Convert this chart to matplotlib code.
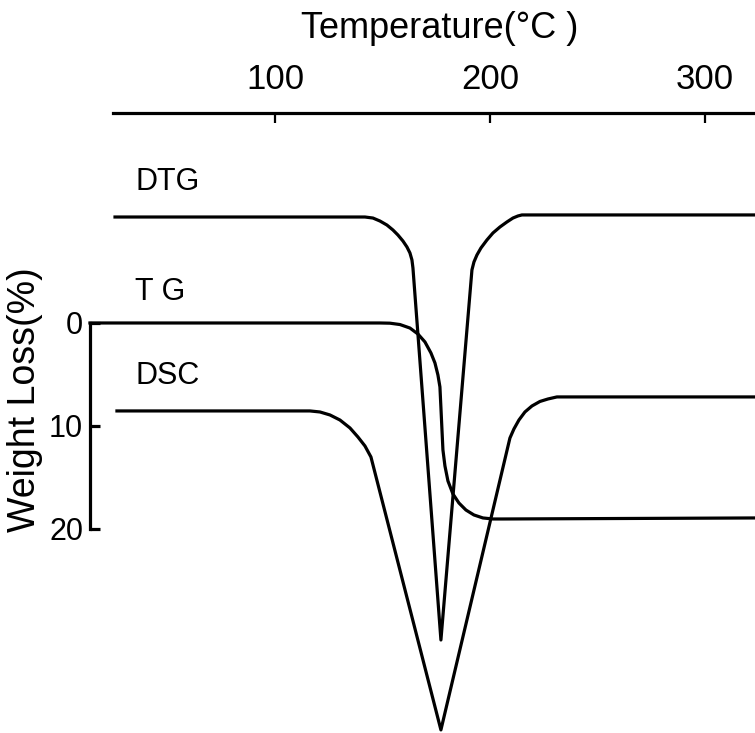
import numpy as np
import matplotlib
matplotlib.use('Agg')
import matplotlib.pyplot as plt

plt.rcParams['font.family'] = ['Liberation Sans', 'DejaVu Sans']

# Temperature (deg C) and vertical position (weight-loss % scale, offsets
# for DTG and DSC are arbitrary as in the original figure)
dtg_temp = [25.6, 141.86, 145.58, 148.84, 152.09, 154.88, 157.21, 159.53,
            161.40, 162.79, 163.72, 164.19, 177.2,
            191.63, 192.56, 193.95, 195.81, 198.60, 201.40, 204.65,
            207.91, 210.70, 213.02, 214.88, 323.3]
dtg_val = [-10.29, -10.29, -10.19, -9.90, -9.51, -9.03, -8.54, -7.96,
           -7.38, -6.80, -6.12, -5.34, 30.78,
           -5.15, -5.92, -6.60, -7.28, -8.06, -8.74, -9.32,
           -9.81, -10.19, -10.39, -10.49, -10.49]

tg_temp = [13.95, 148.84, 153.49, 158.14, 162.79, 166.51, 169.77, 172.56,
           174.42, 175.81, 176.74, 177.21, 177.67, 178.14, 179.07, 180.47,
           182.79, 185.58, 188.84, 192.56, 196.74, 201.40, 206.05, 323.3]
tg_val = [0.0, 0.0, 0.02, 0.15, 0.49, 1.07, 1.84, 2.91,
          3.88, 5.05, 6.21, 8.25, 10.29, 12.33, 13.88, 15.34,
          16.60, 17.48, 18.16, 18.64, 18.93, 19.03, 19.03, 18.93]

dsc_temp = [26.5, 116.28, 120.93, 125.58, 130.23, 134.88, 138.60, 141.86,
            144.65, 177.2,
            209.30, 211.16, 213.49, 216.28, 219.53, 223.26, 226.98, 231.16,
            323.3]
dsc_val = [8.54, 8.54, 8.64, 8.93, 9.42, 10.19, 11.07, 11.94,
           13.01, 39.51,
           11.17, 10.29, 9.42, 8.64, 8.06, 7.62, 7.38, 7.18,
           7.18]

temp_ticks = [100, 200, 300]
loss_ticks = [0, 10, 20]
curve_names = ['DTG', 'T G', 'DSC']
label_y = [-13.69, -3.01, 5.15]


def main():
    fig = plt.figure(figsize=(7.55, 7.33), dpi=100)
    ax = fig.add_axes([0, 0, 1, 1])
    ax.set_xlim(-27.9, 323.3)
    ax.set_ylim(39.81, -31.36)

    lw = 2.3
    for t, v in [(dtg_temp, dtg_val), (tg_temp, tg_val), (dsc_temp, dsc_val)]:
        ax.plot(t, v, color='black', lw=lw, clip_on=False,
                solid_joinstyle='round')

    for name, y in zip(curve_names, label_y):
        ax.text(34.9, y, name, fontsize=22, va='center', ha='left')

    # Axes: temperature on top, weight loss on the left
    ax.spines['right'].set_visible(False)
    ax.spines['bottom'].set_visible(False)
    ax.spines['top'].set_position(('data', -20.39))
    ax.spines['top'].set_bounds(24.65, 323.3)
    ax.spines['left'].set_position(('data', 13.95))
    ax.spines['left'].set_bounds(0, 20)
    for s in ('top', 'left'):
        ax.spines[s].set_linewidth(lw)

    ax.xaxis.set_ticks_position('top')
    ax.set_xticks(temp_ticks)
    ax.set_xticklabels([str(t) for t in temp_ticks])
    ax.tick_params(axis='x', direction='in', length=7, width=1.6,
                   pad=12, labelsize=25)

    ax.set_yticks(loss_ticks)
    ax.set_yticklabels([str(t) for t in loss_ticks])
    ax.tick_params(axis='y', direction='in', length=7, width=lw,
                   pad=5, labelsize=22)

    fig.text(440 / 755, 1 - 29 / 733, 'Temperature(°C )', fontsize=26,
             ha='center', va='center')
    fig.text(25 / 755, 1 - 400 / 733, 'Weight Loss(%)', fontsize=27,
             ha='center', va='center', rotation=90)

    fig.savefig('out.png', dpi=100)


if __name__ == '__main__':
    main()
